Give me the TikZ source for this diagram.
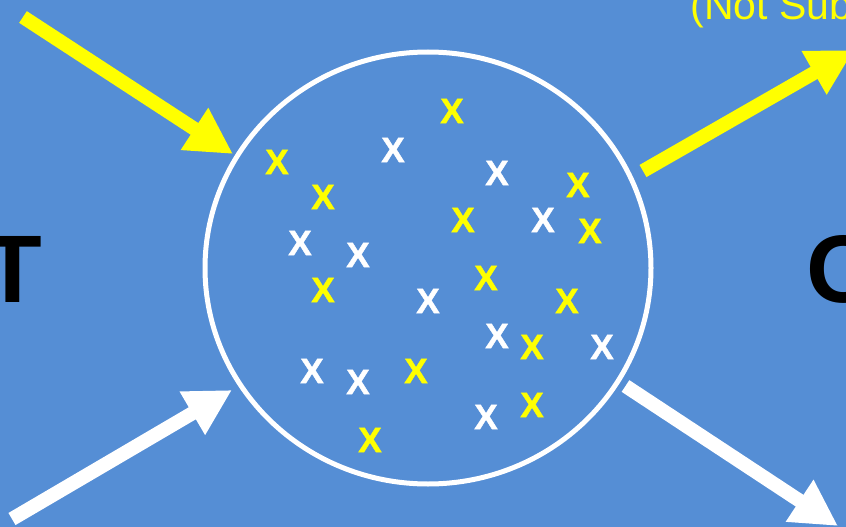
\documentclass[tikz,border=0pt]{standalone}
\usepackage{fontspec}
\setmainfont{Liberation Sans}
\newfontface\markfont{Liberation Sans Bold}[FakeBold=1.3]
\usetikzlibrary{arrows.meta,shapes.geometric}
\definecolor{bgblue}{RGB}{85,142,213}
\definecolor{yel}{RGB}{255,255,0}
\tikzset{
  bigarrow/.style={line width=14pt,-{Triangle[width=47pt,length=46pt]}},
  ymark/.style={text=yel,font=\fontsize{35}{40}\markfont,inner sep=0pt},
  wmark/.style={text=white,font=\fontsize{35}{40}\markfont,inner sep=0pt},
  bigletter/.style={text=black,font=\fontsize{96}{100}\selectfont\bfseries,inner sep=0pt,anchor=base west},
}
\begin{document}
\begin{tikzpicture}[x=1pt,y=-1pt]
\useasboundingbox (0,0) rectangle (846,527);
\fill[bgblue] (0,0) rectangle (846,527);
\clip (0,0) rectangle (846,527);
% big letters
\node[bigletter] (tin) at (-17,302) {T};
\node[bigletter] (oout) at (806,302) {O};
\node[text=yel,font=\fontsize{41}{45}\selectfont,inner sep=0pt,anchor=base west] (note) at (690.5,20) {(Not Sub};
% circle
\node[draw=white,line width=5pt,ellipse,minimum width=446pt,minimum height=432pt,inner sep=0pt] (pool) at (428,268) {};
% arrows
\coordinate (a1s) at (23,17);   \coordinate (a1e) at (233,154);
\coordinate (a2s) at (12,519);  \coordinate (a2e) at (232,390);
\coordinate (a3s) at (643,171); \coordinate (a3e) at (854,50);
\coordinate (a4s) at (625.5,386); \coordinate (a4e) at (838,526);
\draw[bigarrow,yel] (a1s) -- (a1e);
\draw[bigarrow,white] (a2s) -- (a2e);
\draw[bigarrow,yel] (a3s) -- (a3e);
\draw[bigarrow,white] (a4s) -- (a4e);
% yellow marks
\node[ymark] (y1) at (452,111) {X};
\node[ymark] (y2) at (277,162) {X};
\node[ymark] (y3) at (323,197) {X};
\node[ymark] (y4) at (578,185) {X};
\node[ymark] (y5) at (463,220) {X};
\node[ymark] (y6) at (590,231) {X};
\node[ymark] (y7) at (323,290) {X};
\node[ymark] (y8) at (486,278) {X};
\node[ymark] (y9) at (567,301) {X};
\node[ymark] (y10) at (532,347) {X};
\node[ymark] (y11) at (416,371) {X};
\node[ymark] (y12) at (370,440) {X};
\node[ymark] (y13) at (532,405) {X};
% white marks
\node[wmark] (w1) at (393,150) {X};
\node[wmark] (w2) at (497,173) {X};
\node[wmark] (w3) at (543,220) {X};
\node[wmark] (w4) at (300,243) {X};
\node[wmark] (w5) at (358,255) {X};
\node[wmark] (w6) at (428,301) {X};
\node[wmark] (w7) at (497,336) {X};
\node[wmark] (w8) at (602,347) {X};
\node[wmark] (w9) at (312,371) {X};
\node[wmark] (w10) at (358,382) {X};
\node[wmark] (w11) at (486,417) {X};
\end{tikzpicture}
\end{document}
